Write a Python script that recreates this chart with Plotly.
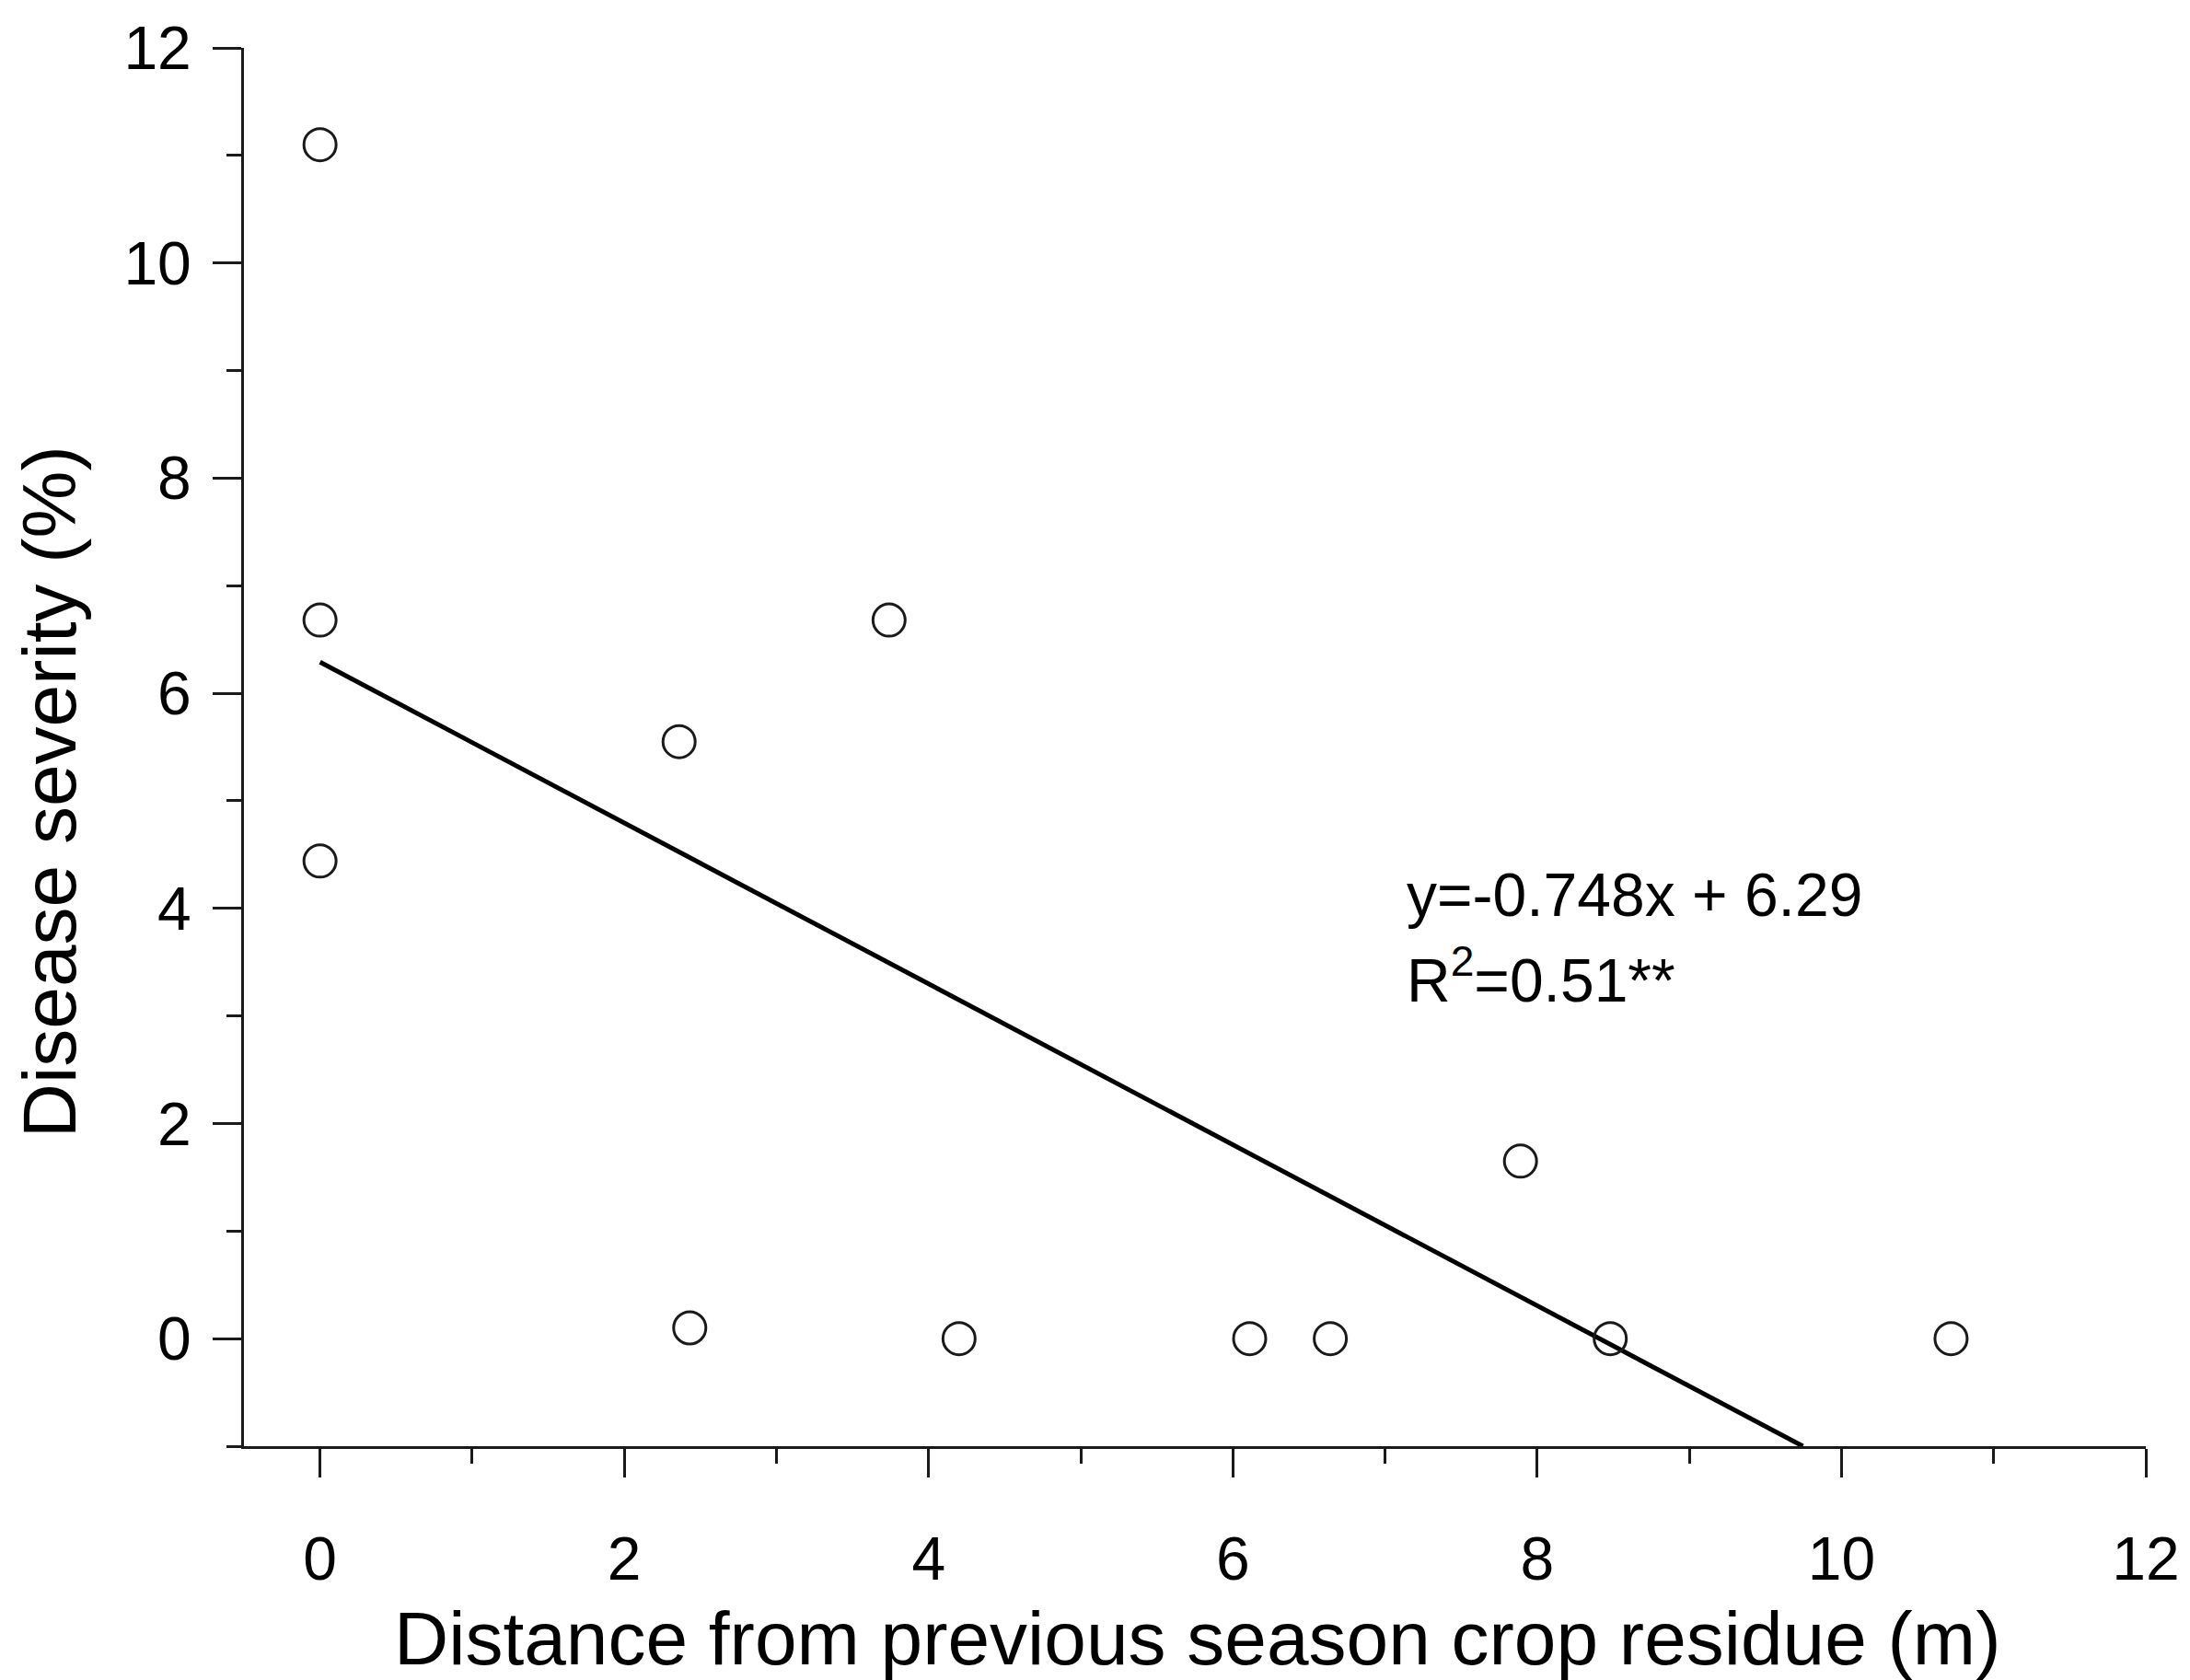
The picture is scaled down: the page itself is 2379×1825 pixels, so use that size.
import plotly.graph_objects as go

# Data
distance_m = [0.0, 0.0, 0.0, 2.36, 3.74, 2.43, 4.20, 6.11, 6.64, 7.89, 8.48, 10.72]
severity_pct = [11.1, 6.68, 4.44, 5.55, 6.68, 0.10, 0.0, 0.0, 0.0, 1.65, 0.0, 0.0]
slope = -0.748
intercept = 6.29
x_range = [-0.5, 12]
y_range = [-1, 12]

# Regression line: from x=0 to where it meets the bottom of the axis
x_line = [0.0, (y_range[0] - intercept) / slope]
y_line = [intercept + slope * v for v in x_line]

FONT = "Arial, Liberation Sans, sans-serif"

fig = go.Figure()
fig.add_trace(go.Scatter(
    x=x_line, y=y_line, mode="lines",
    line=dict(color="black", width=5), showlegend=False, hoverinfo="skip"))
fig.add_trace(go.Scatter(
    x=distance_m, y=severity_pct, mode="markers",
    marker=dict(symbol="circle-open", size=35, color="#1a1a1a", line=dict(width=3)),
    showlegend=False, cliponaxis=False))

axis_common = dict(
    showline=True, linecolor="#1a1a1a", linewidth=3, mirror=False,
    showgrid=False, zeroline=False,
    ticks="outside", ticklen=31, tickwidth=3, tickcolor="#1a1a1a",
    tickfont=dict(family=FONT, size=66, color="black"),
    dtick=2, tick0=0,
    minor=dict(ticks="outside", ticklen=16, tickwidth=3, tickcolor="#1a1a1a", dtick=1, showgrid=False),
)

fig.update_xaxes(range=x_range, ticklabelstandoff=32, **axis_common)
fig.update_yaxes(range=y_range, ticklabelstandoff=10, **axis_common)

fig.add_annotation(
    xref="paper", yref="paper", x=(1300 - 265) / 2066, y=-0.137, xanchor="center", yanchor="middle",
    text="Distance from previous season crop residue (m)", showarrow=False,
    font=dict(family=FONT, size=82, color="black"))
fig.add_annotation(
    xref="paper", yref="paper", x=-0.1026, y=0.468, xanchor="center", yanchor="middle",
    text="Disease severity (%)", textangle=-90, showarrow=False,
    font=dict(family=FONT, size=82, color="black"))
fig.add_annotation(
    x=7.13, y=4.13, xanchor="left", yanchor="middle",
    text="y=-0.748x + 6.29", showarrow=False,
    font=dict(family=FONT, size=66, color="black"))
fig.add_annotation(
    x=7.13, y=3.37, xanchor="left", yanchor="middle",
    text="R<sup>2</sup>=0.51**", showarrow=False,
    font=dict(family=FONT, size=66, color="black"))

fig.update_layout(
    width=2379, height=1825,
    margin=dict(l=265, r=48, t=52, b=254),
    plot_bgcolor="white", paper_bgcolor="white",
    font=dict(family=FONT, color="black"),
)

fig.write_html("out.html")
